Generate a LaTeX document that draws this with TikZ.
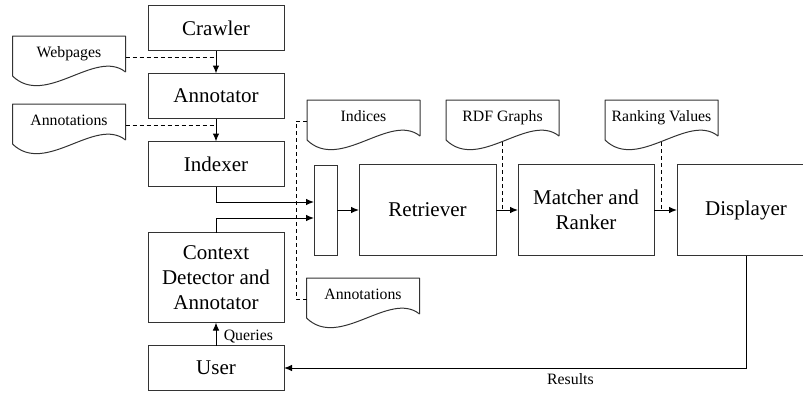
\documentclass[tikz,border=0pt]{standalone}
\usepackage{fontspec}
\setmainfont{Liberation Serif}
\usetikzlibrary{positioning,arrows.meta}

\begin{document}
\begin{tikzpicture}[x=1pt, y=-1pt, node distance=23pt and 22pt,
  box/.style={draw=black!80, line width=1pt, outer sep=0pt, minimum width=136pt, minimum height=45pt,
    align=center, font=\fontsize{21}{25}\selectfont},
  doc/.style={minimum width=113pt, minimum height=42pt, inner sep=0pt, outer sep=0pt,
    text height=8pt, text depth=8pt, font=\fontsize{15.8}{19}\selectfont},
  docline/.style={draw=black!80, line width=1pt, line join=round},
  tag/.style={font=\fontsize{15.8}{19}\selectfont},
  flow/.style={line width=1pt, -{Latex[length=8pt,width=6.5pt]}},
  feed/.style={line width=1pt, dash pattern=on 4pt off 3pt}]
\useasboundingbox (0,0) rectangle (803,392);

\node [box] (crawler) at (216,28) {Crawler};
\node [box, below=of crawler] (annotator) {Annotator};
\node [box, below=of annotator] (indexer) {Indexer};
\node [box, minimum height=90pt, below=46pt of indexer] (context) {Context\\Detector and\\Annotator};
\node [box, below=of context] (user) {User};

\node [box, minimum width=23pt, minimum height=90pt] (mux) at (325.5,210) {};
\node [box, minimum width=137pt, minimum height=91pt, right=of mux] (retriever) {Retriever};
\node [box, minimum height=91pt, right=of retriever] (matcher) {Matcher and\\Ranker};
\node [box, minimum width=138pt, minimum height=91pt, right=23pt of matcher] (displayer) {Displayer};

% documents
\node [doc] (webpages) at (69,57) {Webpages};
\node [doc] (annots) at (69,125) {Annotations};
\node [doc] (indices) at (363.5,121) {Indices};
\node [doc] (rdf) at (502.5,121) {RDF Graphs};
\node [doc] (ranking) at (661.5,121) {Ranking Values};
\node [doc] (annotsb) at (363,299) {Annotations};
\foreach \d in {webpages,annots,indices,rdf,ranking,annotsb}
  \draw [docline] ([yshift=6pt]\d.south east) -- (\d.north east) -- (\d.north west)
    -- ([yshift=2pt]\d.south west) .. controls +(33,32) and +(-30,-24) .. ([yshift=6pt]\d.south east);

\draw [flow] (crawler) -- (annotator);
\draw [flow] (annotator) -- (indexer);
\draw [feed] (webpages.east) -- (webpages.east -| crawler.south);
\draw [feed] (annots.east) -- (annots.east -| annotator.south);
\draw [flow] (indexer.south) |- ([yshift=8pt]mux.west);
\draw [flow] (context.north) |- ([yshift=-8pt]mux.west);
\draw [feed] (indices.west) -- ++(-11,0) |- (annotsb.west);
\draw [flow] (mux) -- (retriever);
\draw [flow] (retriever) -- (matcher);
\draw [flow] (matcher) -- (displayer);
\draw [feed] (rdf.south) -- (rdf.south |- retriever.east);
\draw [feed] (ranking.south) -- (ranking.south |- matcher.east);
\draw [flow] (user) -- node [tag, right, xshift=4pt, yshift=-3pt] (queries) {Queries} (context);
\draw [flow] (displayer.south) |- node [tag, pos=0.69, below, yshift=-2pt] (results) {Results} (user.east);
\end{tikzpicture}
\end{document}
